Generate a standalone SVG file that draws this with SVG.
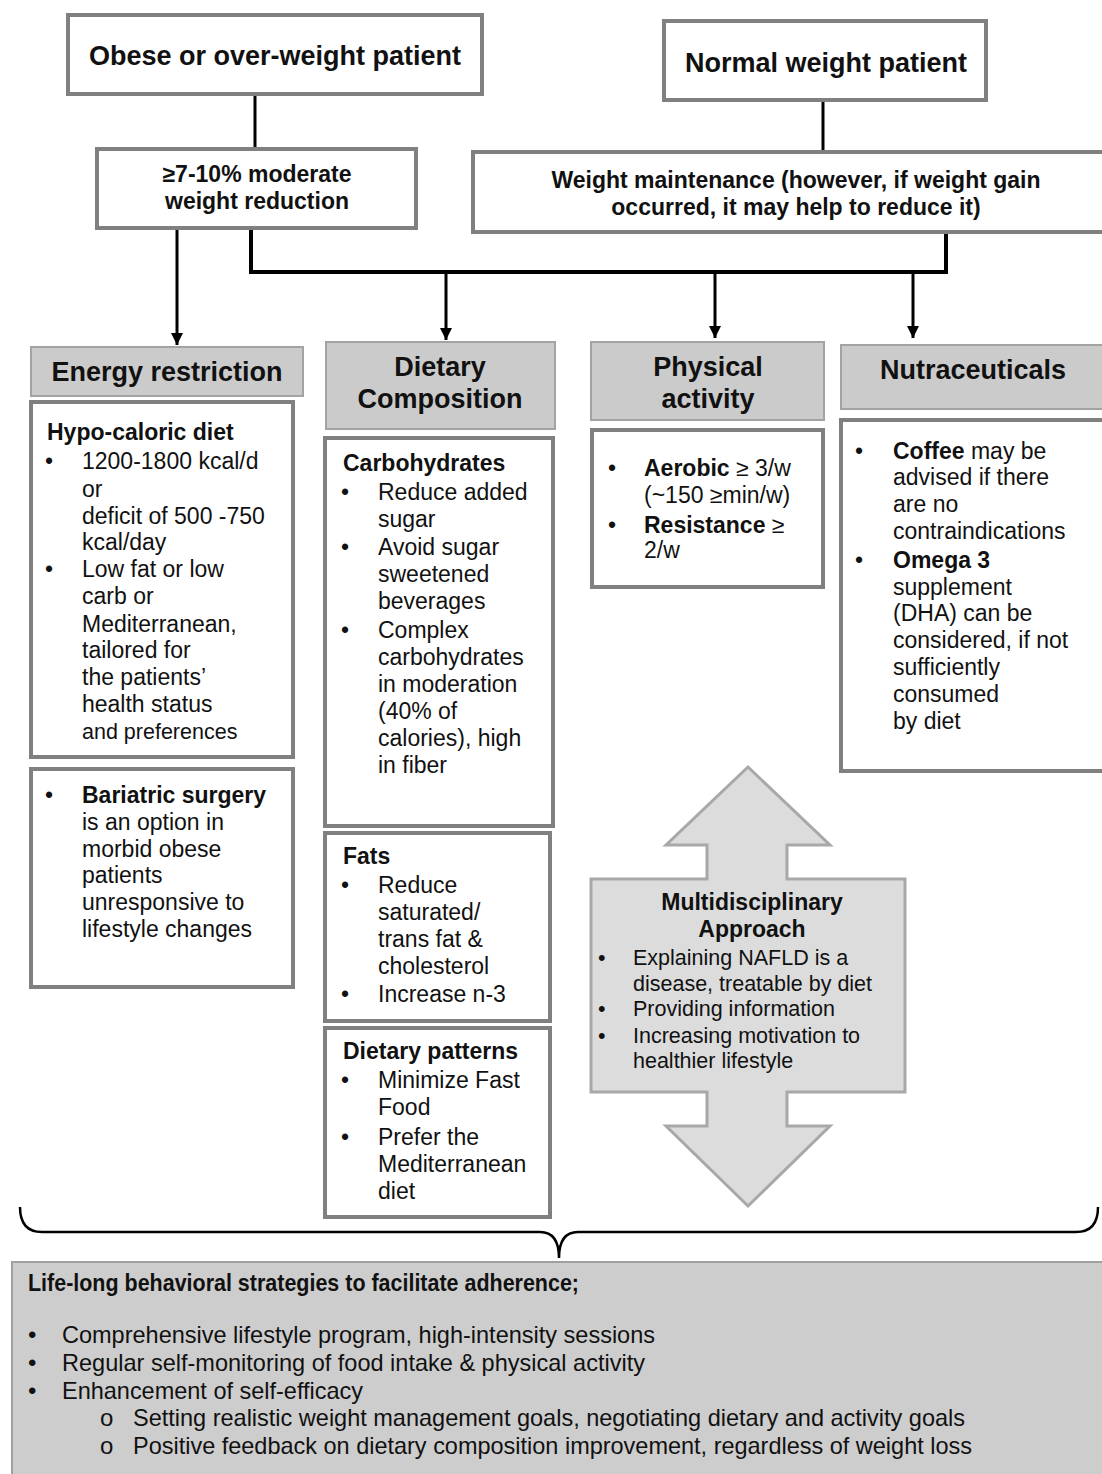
<svg xmlns="http://www.w3.org/2000/svg" width="1102" height="1474" viewBox="0 0 1102 1474">
<defs>
<marker id="arr" markerUnits="userSpaceOnUse" markerWidth="14" markerHeight="14" refX="12" refY="7" orient="auto" viewBox="0 0 14 14">
<path d="M0,1 L12,7 L0,13 Z" fill="#000"/>
</marker>
</defs>
<style>
text{font-family:"Liberation Sans",Arial,sans-serif;fill:#111;}
.t27{font-size:27px;font-weight:bold;}
.t23b{font-size:23px;font-weight:bold;}
.t23{font-size:23px;}
.t21{font-size:21.5px;}
.nar{font-size:24px;}
.mid{text-anchor:middle;}
.box{fill:#fff;stroke:#808080;stroke-width:4;}
.hdr{fill:#cbcbcb;stroke:#a3a3a3;stroke-width:2;}
.ln{fill:none;stroke:#000;stroke-width:3;}
.lnh{fill:none;stroke:#000;stroke-width:4;}
</style>
<rect width="1102" height="1474" fill="#fff"/>

<g id="connectors">
<line class="ln" x1="255" y1="94" x2="255" y2="150"/>
<line class="ln" x1="823" y1="100" x2="823" y2="153"/>
<polyline class="lnh" points="251,228 251,272 946,272 946,232"/>
<line class="ln" x1="177" y1="228" x2="177" y2="345" marker-end="url(#arr)"/>
<line class="ln" x1="446" y1="272" x2="446" y2="340" marker-end="url(#arr)"/>
<line class="ln" x1="715" y1="272" x2="715" y2="338" marker-end="url(#arr)"/>
<line class="ln" x1="913" y1="272" x2="913" y2="338" marker-end="url(#arr)"/>
<path d="M20,1207 Q20,1232 42,1232 L540,1232 Q559,1232 559,1258 Q559,1232 578,1232 L1076,1232 Q1098,1232 1098,1207" fill="none" stroke="#000" stroke-width="2.5"/>
</g>

<g id="obese">
<rect class="box" x="68" y="15" width="414" height="79"/>
<text class="t27 mid" x="275" y="65">Obese or over-weight patient</text>
</g>
<g id="normal">
<rect class="box" x="664" y="21" width="322" height="79"/>
<text class="t27 mid" x="826" y="72">Normal weight patient</text>
</g>
<g id="reduction">
<rect class="box" x="97" y="149" width="319" height="79"/>
<text class="t23b mid" x="257" y="182">≥7-10% moderate</text>
<text class="t23b mid" x="257" y="209">weight reduction</text>
</g>
<g id="maintenance">
<rect class="box" x="473" y="152" width="640" height="80"/>
<text class="t23b mid" x="796" y="188">Weight maintenance (however, if weight gain</text>
<text class="t23b mid" x="796" y="215">occurred, it may help to reduce it)</text>
</g>

<g id="energy-header">
<rect class="hdr" x="31" y="347" width="272" height="49"/>
<text class="t27 mid" x="167" y="381">Energy restriction</text>
</g>
<g id="dietary-header">
<rect class="hdr" x="326" y="342" width="229" height="87"/>
<text class="t27 mid" x="440" y="376">Dietary</text>
<text class="t27 mid" x="440" y="408">Composition</text>
</g>
<g id="physical-header">
<rect class="hdr" x="591" y="342" width="233" height="78"/>
<text class="t27 mid" x="708" y="376">Physical</text>
<text class="t27 mid" x="708" y="408">activity</text>
</g>
<g id="nutra-header">
<rect class="hdr" x="841" y="345" width="270" height="64"/>
<text class="t27 mid" x="973" y="379">Nutraceuticals</text>
</g>

<g id="hypocaloric">
<rect class="box" x="31" y="402" width="262" height="355"/>
<text class="t23b" x="47" y="440">Hypo-caloric diet</text>
<text class="t23" x="45" y="469">•</text>
<text class="t23" x="82" y="469">1200-1800 kcal/d</text>
<text class="t23" x="82" y="497">or</text>
<text class="t23" x="82" y="524">deficit of 500 -750</text>
<text class="t23" x="82" y="550">kcal/day</text>
<text class="t23" x="45" y="577">•</text>
<text class="t23" x="82" y="577">Low fat or low</text>
<text class="t23" x="82" y="604">carb or</text>
<text class="t23" x="82" y="632">Mediterranean,</text>
<text class="t23" x="82" y="658">tailored for</text>
<text class="t23" x="82" y="685">the patients’</text>
<text class="t23" x="82" y="712">health status</text>
<text class="t21" x="82" y="739">and preferences</text>
</g>
<g id="bariatric">
<rect class="box" x="31" y="769" width="262" height="218"/>
<text class="t23" x="45" y="803">•</text>
<text class="t23b" x="82" y="803">Bariatric surgery</text>
<text class="t23" x="82" y="830">is an option in</text>
<text class="t23" x="82" y="857">morbid obese</text>
<text class="t23" x="82" y="883">patients</text>
<text class="t23" x="82" y="910">unresponsive to</text>
<text class="t23" x="82" y="937">lifestyle changes</text>
</g>

<g id="carbohydrates">
<rect class="box" x="325" y="438" width="228" height="388"/>
<text class="t23b" x="343" y="471">Carbohydrates</text>
<text class="t23" x="341" y="500">•</text>
<text class="t23" x="378" y="500">Reduce added</text>
<text class="t23" x="378" y="527">sugar</text>
<text class="t23" x="341" y="555">•</text>
<text class="t23" x="378" y="555">Avoid sugar</text>
<text class="t23" x="378" y="582">sweetened</text>
<text class="t23" x="378" y="609">beverages</text>
<text class="t23" x="341" y="638">•</text>
<text class="t23" x="378" y="638">Complex</text>
<text class="t23" x="378" y="665">carbohydrates</text>
<text class="t23" x="378" y="692">in moderation</text>
<text class="t23" x="378" y="719">(40% of</text>
<text class="t23" x="378" y="746">calories), high</text>
<text class="t23" x="378" y="773">in fiber</text>
</g>
<g id="fats">
<rect class="box" x="325" y="833" width="225" height="188"/>
<text class="t23b" x="343" y="864">Fats</text>
<text class="t23" x="341" y="893">•</text>
<text class="t23" x="378" y="893">Reduce</text>
<text class="t23" x="378" y="920">saturated/</text>
<text class="t23" x="378" y="947">trans fat &amp;</text>
<text class="t23" x="378" y="974">cholesterol</text>
<text class="t23" x="341" y="1002">•</text>
<text class="t23" x="378" y="1002">Increase n-3</text>
</g>
<g id="patterns">
<rect class="box" x="325" y="1028" width="225" height="189"/>
<text class="t23b" x="343" y="1059">Dietary patterns</text>
<text class="t23" x="341" y="1088">•</text>
<text class="t23" x="378" y="1088">Minimize Fast</text>
<text class="t23" x="378" y="1115">Food</text>
<text class="t23" x="341" y="1145">•</text>
<text class="t23" x="378" y="1145">Prefer the</text>
<text class="t23" x="378" y="1172">Mediterranean</text>
<text class="t23" x="378" y="1199">diet</text>
</g>

<g id="physical">
<rect class="box" x="592" y="430" width="231" height="157"/>
<text class="t23" x="608" y="476">•</text>
<text class="t23" x="644" y="476"><tspan font-weight="bold">Aerobic</tspan> ≥ 3/w</text>
<text class="t23" x="644" y="503">(~150 ≥min/w)</text>
<text class="t23" x="608" y="533">•</text>
<text class="t23" x="644" y="533"><tspan font-weight="bold">Resistance</tspan> ≥</text>
<text class="t23" x="644" y="558">2/w</text>
</g>

<g id="nutraceuticals">
<rect class="box" x="841" y="420" width="270" height="351"/>
<text class="t23" x="855" y="459">•</text>
<text class="t23" x="893" y="459"><tspan font-weight="bold">Coffee</tspan> may be</text>
<text class="t23" x="893" y="485">advised if there</text>
<text class="t23" x="893" y="512">are no</text>
<text class="t23" x="893" y="539">contraindications</text>
<text class="t23" x="855" y="568">•</text>
<text class="t23b" x="893" y="568">Omega 3</text>
<text class="t23" x="893" y="595">supplement</text>
<text class="t23" x="893" y="621">(DHA) can be</text>
<text class="t23" x="893" y="648">considered, if not</text>
<text class="t23" x="893" y="675">sufficiently</text>
<text class="t23" x="893" y="702">consumed</text>
<text class="t23" x="893" y="729">by diet</text>
</g>

<g id="multidisciplinary">
<path d="M748,767 L830,845 L787,845 L787,879 L905,879 L905,1092 L787,1092 L787,1126 L830,1126 L748,1206 L666,1126 L707,1126 L707,1092 L591,1092 L591,879 L707,879 L707,845 L666,845 Z" fill="#dcdcdc" stroke="#a8a8a8" stroke-width="3" stroke-linejoin="miter"/>
<text class="t23b mid" x="752" y="910">Multidisciplinary</text>
<text class="t23b mid" x="752" y="937">Approach</text>
<text class="t21" x="598" y="965">•</text>
<text class="t21" x="633" y="965">Explaining NAFLD is a</text>
<text class="t21" x="633" y="991">disease, treatable by diet</text>
<text class="t21" x="598" y="1016">•</text>
<text class="t21" x="633" y="1016">Providing information</text>
<text class="t21" x="598" y="1043">•</text>
<text class="t21" x="633" y="1043">Increasing motivation to</text>
<text class="t21" x="633" y="1068">healthier lifestyle</text>
</g>

<g id="behavioral">
<rect x="12" y="1262" width="1100" height="220" fill="#cdcdcd" stroke="#a0a0a0" stroke-width="2"/>
<text class="nar" x="28" y="1291" font-weight="bold" textLength="551" lengthAdjust="spacingAndGlyphs">Life-long behavioral strategies to facilitate adherence;</text>
<text class="nar" x="28" y="1343" font-size="20px">•</text>
<text class="nar" x="62" y="1343" textLength="593" lengthAdjust="spacingAndGlyphs">Comprehensive lifestyle program, high-intensity sessions</text>
<text class="nar" x="28" y="1371" font-size="20px">•</text>
<text class="nar" x="62" y="1371" textLength="583" lengthAdjust="spacingAndGlyphs">Regular self-monitoring of food intake &amp; physical activity</text>
<text class="nar" x="28" y="1399" font-size="20px">•</text>
<text class="nar" x="62" y="1399" textLength="301" lengthAdjust="spacingAndGlyphs">Enhancement of self-efficacy</text>
<text class="nar" x="100" y="1426" font-size="16px">o</text>
<text class="nar" x="133" y="1426" textLength="832" lengthAdjust="spacingAndGlyphs">Setting realistic weight management goals, negotiating dietary and activity goals</text>
<text class="nar" x="100" y="1454" font-size="16px">o</text>
<text class="nar" x="133" y="1454" textLength="839" lengthAdjust="spacingAndGlyphs">Positive feedback on dietary composition improvement, regardless of weight loss</text>
</g>
</svg>
